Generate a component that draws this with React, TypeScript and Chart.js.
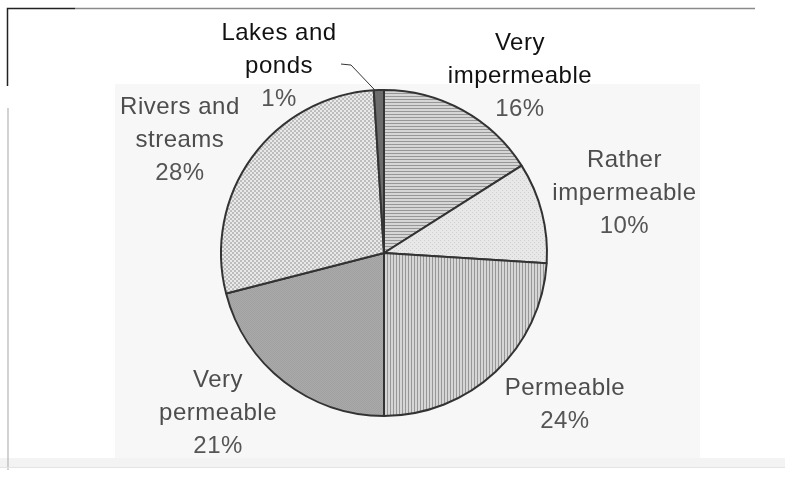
import React, { useEffect, useRef } from "react";
import { Chart, registerables } from "chart.js";

Chart.register(...registerables);

const CATEGORIES = [
  "Very impermeable",
  "Rather impermeable",
  "Permeable",
  "Very permeable",
  "Rivers and streams",
  "Lakes and ponds",
];
const VALUES = [16, 10, 24, 21, 28, 1];

// label block placement, in pie-radius units from the pie centre
const LABEL_OFFSETS: [number, number][] = [
  [0.834, -1.086],
  [1.475, -0.368],
  [1.11, 0.933],
  [-1.018, 0.982],
  [-1.252, -0.693],
  [-0.644, -1.147],
];
const NAME_COLORS = ["#111111", "#4d4d4d", "#4d4d4d", "#4d4d4d", "#4d4d4d", "#111111"];
const PCT_COLOR = "#555555";

function makePattern(w: number, h: number, draw: (c: CanvasRenderingContext2D) => void) {
  const c = document.createElement("canvas");
  c.width = w;
  c.height = h;
  const ctx = c.getContext("2d")!;
  draw(ctx);
  const p = document.createElement("canvas").getContext("2d")!.createPattern(c, "repeat");
  return p as CanvasPattern;
}

function buildFills() {
  const hLines = makePattern(1, 3, (c) => {
    c.fillStyle = "#d6d6d6";
    c.fillRect(0, 0, 1, 3);
    c.fillStyle = "#979797";
    c.fillRect(0, 0, 1, 1);
  });
  const vLines = makePattern(3, 1, (c) => {
    c.fillStyle = "#d6d6d6";
    c.fillRect(0, 0, 3, 1);
    c.fillStyle = "#979797";
    c.fillRect(0, 0, 1, 1);
  });
  const dots = makePattern(4, 4, (c) => {
    c.fillStyle = "#e8e8e8";
    c.fillRect(0, 0, 4, 4);
    c.fillStyle = "#cfcfcf";
    c.fillRect(0, 0, 1, 1);
    c.fillRect(2, 2, 1, 1);
  });
  const grey = makePattern(2, 2, (c) => {
    c.fillStyle = "#a9a9a9";
    c.fillRect(0, 0, 2, 2);
    c.fillStyle = "#a1a1a1";
    c.fillRect(0, 0, 1, 1);
    c.fillRect(1, 1, 1, 1);
  });
  const checker = makePattern(4, 4, (c) => {
    c.fillStyle = "#e9e9e9";
    c.fillRect(0, 0, 4, 4);
    c.fillStyle = "#bdbdbd";
    c.fillRect(0, 0, 2, 2);
    c.fillRect(2, 2, 2, 2);
  });
  return [hLines, dots, vLines, grey, checker, "#6c6c6c"];
}

function splitName(name: string): string[] {
  const i = name.lastIndexOf(" ");
  if (i < 0) return [name];
  return [name.slice(0, i), name.slice(i + 1)];
}

const decorPlugin = {
  id: "decor",
  beforeDraw(chart: any) {
    const ctx = chart.ctx as CanvasRenderingContext2D;
    ctx.save();
    ctx.fillStyle = "#ffffff";
    ctx.fillRect(0, 0, chart.width, chart.height);
    ctx.fillStyle = "#f7f7f7";
    ctx.fillRect(115, 84, 585, 374);
    ctx.fillStyle = "#f3f3f3";
    ctx.fillRect(0, 458, chart.width, 10);
    // frame remnants
    ctx.strokeStyle = "#222";
    ctx.lineWidth = 1.5;
    ctx.beginPath();
    ctx.moveTo(7.5, 86);
    ctx.lineTo(7.5, 8.5);
    ctx.lineTo(75, 8.5);
    ctx.stroke();
    ctx.strokeStyle = "#8a8a8a";
    ctx.beginPath();
    ctx.moveTo(75, 8.5);
    ctx.lineTo(755, 8.5);
    ctx.stroke();
    ctx.strokeStyle = "#b5b5b5";
    ctx.lineWidth = 1.2;
    ctx.beginPath();
    ctx.moveTo(8, 108);
    ctx.lineTo(8, 470);
    ctx.stroke();
    ctx.strokeStyle = "#e4e4e4";
    ctx.beginPath();
    ctx.moveTo(0, 467.5);
    ctx.lineTo(chart.width, 467.5);
    ctx.stroke();
    ctx.restore();
  },
  afterDatasetsDraw(chart: any) {
    const ctx = chart.ctx as CanvasRenderingContext2D;
    const meta = chart.getDatasetMeta(0);
    const values = chart.data.datasets[0].data as number[];
    const labels = chart.data.labels as string[];
    ctx.save();
    ctx.font = "24px 'Liberation Sans', Arial, sans-serif";
    (ctx as any).letterSpacing = "0.5px";
    ctx.textAlign = "center";
    ctx.textBaseline = "middle";
    const lh = 33;
    meta.data.forEach((arc: any, i: number) => {
      const R = arc.outerRadius;
      const cx = arc.x + LABEL_OFFSETS[i][0] * R;
      const cy = arc.y + LABEL_OFFSETS[i][1] * R;
      const names = splitName(labels[i]);
      const lines = [...names, `${values[i]}%`];
      const top = cy - ((lines.length - 1) * lh) / 2;
      lines.forEach((t, k) => {
        ctx.fillStyle = k < names.length ? NAME_COLORS[i] : PCT_COLOR;
        ctx.fillText(t, cx, top + k * lh);
      });
      if (values[i] < 3) {
        // leader line from label to the small slice
        const mid = (arc.startAngle + arc.endAngle) / 2;
        const ex = arc.x + Math.cos(mid) * R - 4;
        const ey = arc.y + Math.sin(mid) * R;
        ctx.strokeStyle = "#333";
        ctx.lineWidth = 1;
        ctx.beginPath();
        ctx.moveTo(cx + 62, cy - 2);
        ctx.lineTo(cx + 72, cy - 1);
        ctx.lineTo(ex, ey);
        ctx.stroke();
      }
    });
    ctx.restore();
  },
};

export default function App() {
  const ref = useRef<HTMLCanvasElement>(null);
  useEffect(() => {
    document.body.style.margin = "0";
    const chart = new Chart(ref.current!, {
      type: "pie",
      data: {
        labels: CATEGORIES,
        datasets: [
          {
            data: VALUES,
            backgroundColor: buildFills() as any,
            borderColor: "#333333",
            borderWidth: 2,
            radius: 163,
          } as any,
        ],
      },
      options: {
        responsive: false,
        animation: false,
        events: [],
        layout: { padding: { left: 200, right: 217, top: 80, bottom: 56 } },
        plugins: { legend: { display: false }, tooltip: { enabled: false } },
      },
      plugins: [decorPlugin],
    });
    return () => chart.destroy();
  }, []);
  return (
    <div style={{ width: 785, height: 482 }}>
      <canvas ref={ref} width={785} height={482} />
    </div>
  );
}
